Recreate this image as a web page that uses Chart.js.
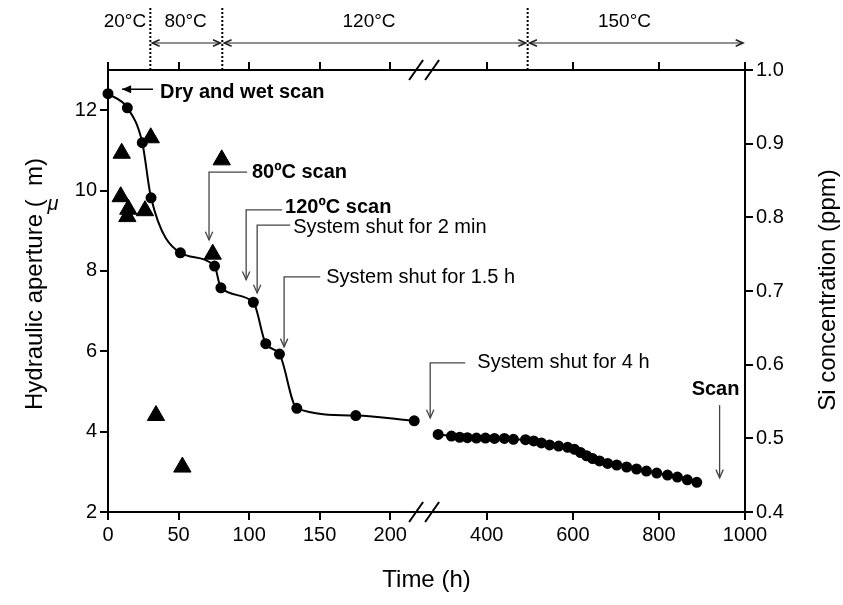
<!DOCTYPE html>
<html>
<head>
<meta charset="utf-8">
<script src="https://cdn.jsdelivr.net/npm/chart.js@4"></script>
<style>
  body { margin: 0; background: #fff; }
  #wrap { width: 843px; height: 605px; position: relative; }
</style>
</head>
<body>
<div id="wrap"><canvas id="chart"></canvas></div>
<script>
// hydraulic aperture (um), first part of the run (before the axis break)
const apertureTimesA = [0, 13.7, 24.3, 30.5, 51.3, 75.5, 80.0, 103.0, 111.8, 121.5, 133.8, 175.6, 217.0];
const apertureValuesA = [12.41, 12.06, 11.19, 9.82, 8.45, 8.12, 7.58, 7.22, 6.19, 5.93, 4.58, 4.40, 4.27];

// hydraulic aperture (um) after the 4 h shut-in
const apertureTimesB = [287, 318, 337, 355, 376, 397, 418, 441, 462, 490, 509, 527, 546, 567, 588,
  604, 618, 632, 646, 662, 681, 702, 725, 748, 771, 795, 820, 843, 866, 888];
const apertureValuesB = [3.93, 3.89, 3.86, 3.85, 3.84, 3.84, 3.83, 3.83, 3.81, 3.80, 3.77, 3.72, 3.67, 3.64, 3.61,
  3.56, 3.48, 3.40, 3.33, 3.27, 3.21, 3.17, 3.12, 3.07, 3.02, 2.97, 2.92, 2.87, 2.80, 2.74];

// Si concentration (ppm)
const siTimes = [9.0, 9.7, 13.7, 14.4, 26.2, 30.3, 34.0, 52.7, 74.2, 80.6];
const siValues = [0.828, 0.887, 0.801, 0.811, 0.809, 0.908, 0.531, 0.461, 0.750, 0.878];

const timeTicks = [0, 50, 100, 150, 200, 400, 600, 800, 1000];

// temperature steps (h) and their labels
const tempSwitchTimes = [30, 81, 495];
const tempBands = [
  { label: '20°C', from: null, to: null, labelAt: 12 },
  { label: '80°C', from: 30, to: 81, labelAt: 55 },
  { label: '120°C', from: 81, to: 495, labelAt: 185 },
  { label: '150°C', from: 495, to: 1000, labelAt: 720 },
];

// event notes: text anchor and arrow path in (time, aperture) units
const notes = [
  { text: 'Dry and wet scan', bold: true, at: [36.9, 12.45], path: [[31.9, 12.52], [9.9, 12.52]], solid: true },
  { text: '80ºC scan', bold: true, at: [102, 10.44], path: [[98.6, 10.46], [71.6, 10.46], [71.6, 8.77]] },
  { text: '120ºC scan', bold: true, at: [125.5, 9.59], path: [[123.4, 9.52], [97.9, 9.52], [97.9, 7.78]] },
  { text: 'System shut for 2 min', at: [131.2, 9.09], path: [[129.1, 9.14], [105.7, 9.14], [105.7, 7.45]] },
  { text: 'System shut for 1.5 h', at: [154.6, 7.83], path: [[150.4, 7.85], [124.8, 7.85], [124.8, 6.11]] },
  { text: 'System shut for 4 h', at: [378, 5.71], path: [[350, 5.71], [268.6, 5.71], [268.6, 4.34]] },
  { text: 'Scan', bold: true, at: [876, 5.04], path: [[941, 4.66], [941, 2.85]] },
];

// broken time axis: 0-240 h on its own scale, later times compressed
const BREAK_AT = 240;
function toAxis(t) {
  return t <= BREAK_AT ? t : 268.4 + (t - 400) * 0.305;
}
const AXIS_BREAK = 224;

const FONT = 'Arial, "Liberation Sans", sans-serif';
Chart.defaults.font.family = FONT;
Chart.defaults.color = '#000';

const points = (ts, vs) => ts.map((t, i) => ({ x: toAxis(t), y: vs[i] }));

function arrowHead(ctx, x, y, ang, size, solid) {
  const a1 = ang + Math.PI - 0.42, a2 = ang + Math.PI + 0.42;
  ctx.beginPath();
  ctx.moveTo(x + size * Math.cos(a1), y + size * Math.sin(a1));
  ctx.lineTo(x, y);
  ctx.lineTo(x + size * Math.cos(a2), y + size * Math.sin(a2));
  if (solid) { ctx.closePath(); ctx.fill(); } else ctx.stroke();
}

function polyArrow(ctx, pts, size, solid) {
  ctx.beginPath();
  ctx.moveTo(pts[0][0], pts[0][1]);
  pts.slice(1).forEach(p => ctx.lineTo(p[0], p[1]));
  ctx.stroke();
  const [x1, y1] = pts[pts.length - 2], [x2, y2] = pts[pts.length - 1];
  arrowHead(ctx, x2, y2, Math.atan2(y2 - y1, x2 - x1), size, solid);
}

function upwardText(ctx, text, x, y) {
  ctx.save();
  ctx.translate(x, y);
  ctx.rotate(-Math.PI / 2);
  ctx.fillText(text, 0, 0);
  ctx.restore();
}

const annotate = {
  id: 'annotate',
  afterDraw(chart) {
    const { ctx, chartArea: area, scales } = chart;
    const X = t => scales.x.getPixelForValue(toAxis(t));
    const Y = v => scales.y.getPixelForValue(v);
    ctx.save();

    // dotted lines where the temperature changes
    ctx.strokeStyle = '#000';
    ctx.lineWidth = 2;
    ctx.setLineDash([2, 2]);
    tempSwitchTimes.forEach(t => {
      ctx.beginPath();
      ctx.moveTo(X(t), 8);
      ctx.lineTo(X(t), area.top);
      ctx.stroke();
    });
    ctx.setLineDash([]);

    // temperature spans
    const arrowY = area.top - 27;
    ctx.lineWidth = 1.2;
    ctx.strokeStyle = '#222';
    ctx.fillStyle = '#000';
    ctx.font = '19px ' + FONT;
    ctx.textAlign = 'center';
    ctx.textBaseline = 'middle';
    tempBands.forEach(b => {
      if (b.from !== null) {
        const x1 = X(b.from) + 2, x2 = X(b.to) - 2;
        ctx.beginPath();
        ctx.moveTo(x1, arrowY);
        ctx.lineTo(x2, arrowY);
        ctx.stroke();
        ctx.lineWidth = 1.6;
        arrowHead(ctx, x1, arrowY, Math.PI, 8, false);
        arrowHead(ctx, x2, arrowY, 0, 8, false);
        ctx.lineWidth = 1.2;
      }
      ctx.fillText(b.label, X(b.labelAt), area.top - 48);
    });

    // axis break marks on the top and bottom axes
    const bx = scales.x.getPixelForValue(AXIS_BREAK);
    ctx.strokeStyle = '#000';
    ctx.lineWidth = 2;
    [area.top, area.bottom].forEach(y => {
      [-8, 8].forEach(dx => {
        ctx.beginPath();
        ctx.moveTo(bx + dx - 7, y + 10);
        ctx.lineTo(bx + dx + 7, y - 10);
        ctx.stroke();
      });
    });

    // event notes
    ctx.textAlign = 'left';
    notes.forEach(n => {
      const pts = n.path.map(([t, v]) => [X(t), Y(v)]);
      ctx.strokeStyle = n.solid ? '#000' : '#444';
      ctx.fillStyle = '#000';
      ctx.lineWidth = n.solid ? 1.6 : 1.3;
      polyArrow(ctx, pts, n.solid ? 10 : 9, !!n.solid);
      ctx.font = (n.bold ? 'bold ' : '') + '20px ' + FONT;
      ctx.fillText(n.text, X(n.at[0]), Y(n.at[1]));
    });

    // axis titles, both reading upwards
    ctx.textAlign = 'center';
    ctx.font = '24px ' + FONT;
    upwardText(ctx, 'Hydraulic aperture (  m)', 35, 284);
    upwardText(ctx, 'Si concentration (ppm)', 828, 290);
    ctx.font = 'italic 20px ' + FONT;
    ctx.fillText('μ', 53, 204);
    ctx.restore();
  }
};

const axisLine = { color: '#000', width: 2 };
const tickMarks = { drawOnChartArea: false, tickLength: 8, color: '#000', lineWidth: 2 };
const apertureStyle = {
  yAxisID: 'y', showLine: true, cubicInterpolationMode: 'monotone',
  borderColor: '#000', borderWidth: 2, backgroundColor: '#000',
  pointRadius: 4.5, pointHoverRadius: 4.5, clip: false
};

new Chart(document.getElementById('chart'), {
  type: 'scatter',
  data: {
    datasets: [
      { ...apertureStyle, data: points(apertureTimesA, apertureValuesA) },
      { ...apertureStyle, data: points(apertureTimesB, apertureValuesB) },
      {
        data: points(siTimes, siValues),
        yAxisID: 'y1', showLine: false, pointStyle: 'triangle',
        backgroundColor: '#000', borderColor: '#000', borderWidth: 1,
        pointRadius: 10, pointHoverRadius: 10, clip: false
      }
    ]
  },
  options: {
    responsive: true,
    maintainAspectRatio: false,
    animation: false,
    layout: { padding: 0 },
    plugins: { legend: { display: false }, tooltip: { enabled: false } },
    scales: {
      x: {
        type: 'linear', position: 'bottom', min: 0, max: toAxis(1000),
        afterBuildTicks: s => { s.ticks = timeTicks.map(t => ({ value: toAxis(t) })); },
        afterFit: s => { s.height = 93; },
        ticks: { callback: (v, i) => timeTicks[i], font: { size: 20 }, color: '#000', padding: 3, maxRotation: 0, autoSkip: false },
        grid: tickMarks, border: axisLine,
        title: { display: true, text: 'Time (h)', font: { size: 24 }, color: '#000', padding: { top: 0, bottom: 10 } }
      },
      xTop: {
        type: 'linear', position: 'top', min: 0, max: toAxis(1000),
        afterBuildTicks: s => { s.ticks = timeTicks.map(t => ({ value: toAxis(t) })); },
        afterFit: s => { s.height = 70; },
        ticks: { display: false },
        grid: tickMarks, border: axisLine
      },
      y: {
        position: 'left', min: 2, max: 13,
        afterFit: s => { s.width = 108; },
        ticks: { stepSize: 2, includeBounds: false, font: { size: 20 }, color: '#000', padding: 3 },
        grid: tickMarks, border: axisLine
      },
      y1: {
        position: 'right', min: 0.4, max: 1.0,
        afterFit: s => { s.width = 98; },
        ticks: { stepSize: 0.1, font: { size: 20 }, color: '#000', padding: 3, callback: v => v.toFixed(1) },
        grid: tickMarks, border: axisLine
      }
    }
  },
  plugins: [annotate]
});
</script>
</body>
</html>
